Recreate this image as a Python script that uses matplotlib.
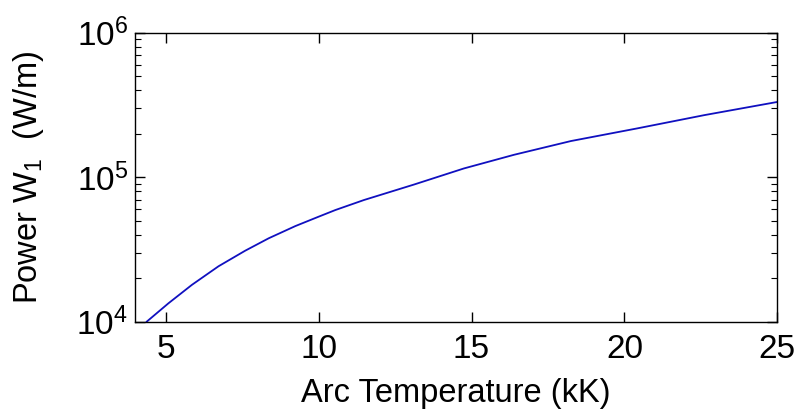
import matplotlib
matplotlib.use("Agg")
import matplotlib.pyplot as plt
from matplotlib.ticker import LogLocator, NullLocator, NullFormatter

# Arc temperature (kK) vs. power W1 (W/m)
temperature = [4.38, 5.09, 5.86, 6.73, 7.60, 8.37, 9.24, 10.0, 10.55, 11.48,
               13.12, 14.75, 16.39, 18.25, 20.43, 22.61, 25.0]
power = [1.0e4, 1.34e4, 1.80e4, 2.42e4, 3.10e4, 3.78e4, 4.59e4, 5.33e4, 5.93e4, 6.95e4,
         8.9e4, 1.15e5, 1.43e5, 1.78e5, 2.18e5, 2.69e5, 3.32e5]

x_ticks = [5, 10, 15, 20, 25]

plt.rcParams["font.family"] = "Liberation Sans"
plt.rcParams["mathtext.fontset"] = "custom"
plt.rcParams["mathtext.rm"] = "Liberation Sans"
plt.rcParams["mathtext.it"] = "Liberation Sans"

fig = plt.figure(figsize=(7.99, 4.17), dpi=100)
ax = fig.add_axes([0.169, 0.2285, 0.804, 0.693])

ax.plot(temperature, power, color="#1010c0", linewidth=1.3)

ax.set_yscale("log")
ax.set_xlim(4, 25)
ax.set_ylim(1e4, 1e6)
ax.set_xticks(x_ticks)
ax.xaxis.set_minor_locator(NullLocator())
ax.yaxis.set_major_locator(LogLocator(base=10, numticks=5))
ax.yaxis.set_minor_locator(LogLocator(base=10, subs=range(2, 10), numticks=20))
ax.yaxis.set_minor_formatter(NullFormatter())

ax.tick_params(which="both", direction="in", top=True, right=True, labelsize=24)
ax.tick_params(which="major", length=7, width=1)
ax.tick_params(which="minor", length=4, width=0.8)
ax.tick_params(axis="x", pad=9)
ax.tick_params(axis="y", pad=5)

for spine in ax.spines.values():
    spine.set_linewidth(1)

ax.set_xlabel("Arc Temperature (kK)", fontsize=23.5, labelpad=9)
ax.set_ylabel(r"Power W$_1$  (W/m)", fontsize=23.5, labelpad=22)

fig.savefig("out.png", dpi=100)
